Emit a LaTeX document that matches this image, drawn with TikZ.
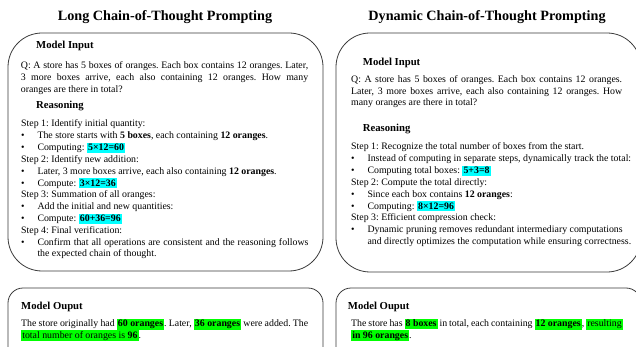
\documentclass[tikz,border=0pt]{standalone}
\usepackage{fontspec}
\setmainfont{Liberation Serif}
\frenchspacing
\definecolor{hlc}{HTML}{00FFFF}
\definecolor{hlg}{HTML}{00FF00}
\definecolor{frame}{HTML}{3A3A3A}
\newcommand\hlcyan[1]{{\setlength\fboxsep{1.1pt}\colorbox{hlc}{\rule[-1.1pt]{0pt}{7.3pt}\textbf{#1}}}}
\newcommand\hlgreen[1]{{\setlength\fboxsep{1.1pt}\colorbox{hlg}{\rule[-1.1pt]{0pt}{7.7pt}#1}}}
\newcommand\jst[2]{\makebox[#1pt][s]{#2}}
\tikzset{
  title/.style={anchor=base, inner sep=0pt, font=\fontsize{14.2}{16}\selectfont\bfseries},
  head/.style={anchor=base west, inner sep=0pt, font=\fontsize{10.7}{13}\selectfont\bfseries},
  txt/.style={anchor=base west, inner sep=0pt, font=\fontsize{9.85}{11.8}\selectfont},
  panel/.style={draw=frame, line width=0.8pt, rounded corners=34pt},
  outpanel/.style={draw=frame, line width=0.8pt, rounded corners=15pt},
}
\begin{document}
\begin{tikzpicture}[x=1pt,y=-1pt]
\useasboundingbox (0,0) rectangle (636,347);
\begin{scope}
\clip (0,0) rectangle (636,347);
\draw[panel] (8,33) rectangle (323,271);
\draw[panel] (336,33) rectangle (641,272);
\draw[outpanel] (8,288) rectangle (323,370);
\draw[outpanel] (336,288) rectangle (641,370);
\end{scope}

% ---------- Left ----------
\node[title] (t1) at (165,21) {Long Chain-of-Thought Prompting};
\node[head] (mi1) at (36,49) {Model Input};
\node[txt] (lq1) at (20.7,69) {\jst{287.3}{Q: A store has 5 boxes of oranges. Each box contains 12 oranges. Later,}};
\node[txt] (lq2) at (20.7,80.8) {\jst{287.3}{3 more boxes arrive, each also containing 12 oranges. How many}};
\node[txt] (lq3) at (20.7,92.5) {oranges are there in total?};
\node[head] (r1) at (36,109) {Reasoning};
\node[txt] (ls1) at (21,127) {Step 1: Identify initial quantity:};
\node[txt] (lb1) at (21,138.8) {•};
\node[txt] (lt1) at (37.3,138.8) {The store starts with \textbf{5 boxes}, each containing \textbf{12 oranges}.};
\node[txt] (lb2) at (21,150.6) {•};
\node[txt] (lt2) at (37.3,150.6) {Computing: \hlcyan{5×12=60}};
\node[txt] (ls2) at (21,162.4) {Step 2: Identify new addition:};
\node[txt] (lb3) at (21,174.2) {•};
\node[txt] (lt3) at (37.3,174.2) {Later, 3 more boxes arrive, each also containing \textbf{12 oranges}.};
\node[txt] (lb4) at (21,186) {•};
\node[txt] (lt4) at (37.3,186) {Compute: \hlcyan{3×12=36}};
\node[txt] (ls3) at (21,197.8) {Step 3: Summation of all oranges:};
\node[txt] (lb5) at (21,209.6) {•};
\node[txt] (lt5) at (37.3,209.6) {Add the initial and new quantities:};
\node[txt] (lb6) at (21,221.4) {•};
\node[txt] (lt6) at (37.3,221.4) {Compute: \hlcyan{60+36=96}};
\node[txt] (ls4) at (21,233.2) {Step 4: Final verification:};
\node[txt] (lb7) at (21,245) {•};
\node[txt] (lt7) at (37.3,245) {\jst{271}{Confirm that all operations are consistent and the reasoning follows}};
\node[txt] (lt8) at (37.3,256.8) {the expected chain of thought.};

\node[head] (mo1) at (21,309) {Model Ouput};
\node[txt] (lo1) at (21,326.5) {\jst{287}{The store originally had \hlgreen{\textbf{60 oranges}}. Later, \hlgreen{\textbf{36 oranges}} were added. The}};
\node[txt] (lo2) at (21,338) {\hlgreen{total number of oranges is \textbf{96}}.};

% ---------- Right ----------
\node[title] (t2) at (487,21) {Dynamic Chain-of-Thought Prompting};
\node[head] (mi2) at (362.7,66) {Model Input};
\node[txt] (rq1) at (351,82.8) {\jst{271}{Q: A store has 5 boxes of oranges. Each box contains 12 oranges.}};
\node[txt] (rq2) at (351,94.3) {\jst{271}{Later, 3 more boxes arrive, each also containing 12 oranges. How}};
\node[txt] (rq3) at (351,105.8) {many oranges are there in total?};
\node[head] (r2) at (362.7,132) {Reasoning};
\node[txt] (rs1) at (351,150) {Step 1: Recognize the total number of boxes from the start.};
\node[txt] (rb1) at (351,161.8) {•};
\node[txt] (rt1) at (367.3,161.8) {Instead of computing in separate steps, dynamically track the total:};
\node[txt] (rb2) at (351,173.6) {•};
\node[txt] (rt2) at (367.3,173.6) {Computing total boxes: \hlcyan{5+3=8}};
\node[txt] (rs2) at (351,185.4) {Step 2: Compute the total directly:};
\node[txt] (rb3) at (351,197.2) {•};
\node[txt] (rt3) at (367.3,197.2) {Since each box contains \textbf{12 oranges}:};
\node[txt] (rb4) at (351,209) {•};
\node[txt] (rt4) at (367.3,209) {Computing: \hlcyan{8×12=96}};
\node[txt] (rs3) at (351,220.8) {Step 3: Efficient compression check:};
\node[txt] (rb5) at (351,232.6) {•};
\node[txt] (rt5) at (367.3,232.6) {Dynamic pruning removes redundant intermediary computations};
\node[txt] (rt6) at (367.3,244.4) {and directly optimizes the computation while ensuring correctness.};

\node[head] (mo2) at (347.7,309) {Model Ouput};
\node[txt] (ro1) at (351,326.5) {\jst{271.7}{The store has \hlgreen{\textbf{8 boxes}} in total, each containing \hlgreen{\textbf{12 oranges}}, \hlgreen{resulting}}};
\node[txt] (ro2) at (351,338) {\hlgreen{\textbf{in 96 oranges}}.};
\end{tikzpicture}
\end{document}
